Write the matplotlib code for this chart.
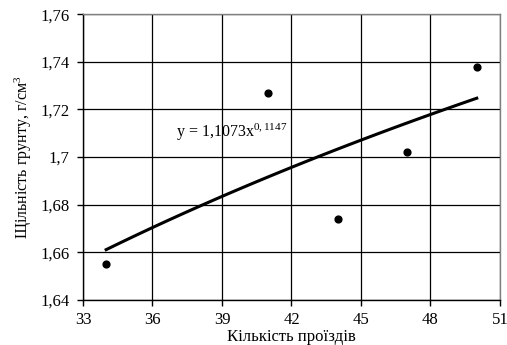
import numpy as np
import matplotlib
matplotlib.use("Agg")
import matplotlib.pyplot as plt
from matplotlib.ticker import FuncFormatter

passes = [34, 41, 44, 47, 50]
density = [1.655, 1.727, 1.674, 1.702, 1.738]
x_ticks = [33, 36, 39, 42, 45, 48, 51]
y_ticks = [1.64, 1.66, 1.68, 1.70, 1.72, 1.74, 1.76]
eq_label = "y = 1,1073x$^{0,1147}$"

plt.rcParams['font.family'] = ['Liberation Serif', 'DejaVu Serif']
plt.rcParams['mathtext.fontset'] = 'custom'
plt.rcParams['mathtext.rm'] = 'Liberation Serif'
plt.rcParams['mathtext.it'] = 'Liberation Serif'

fig = plt.figure(figsize=(5.07, 3.45), dpi=100)
ax = fig.add_axes([0.1637, 0.1304, 0.8223, 0.8286])

# power trend fitted from data
b, lna = np.polyfit(np.log(passes), np.log(density), 1)
xs = np.linspace(min(passes), max(passes), 100)
ax.plot(xs, np.exp(lna) * xs ** b, color='black', lw=2.2, zorder=3)
ax.scatter(passes, density, s=24, color='black', zorder=4)

ax.set_xlim(33, 51)
ax.set_ylim(1.64, 1.76)
ax.set_xticks(x_ticks)
ax.set_yticks(y_ticks)

def fmt(v, pos):
    s = ('%.2f' % v).rstrip('0').rstrip('.')
    return s.replace('.', ',')
ax.yaxis.set_major_formatter(FuncFormatter(fmt))
ax.xaxis.set_major_formatter(FuncFormatter(lambda v, p: '%d' % v))

ax.grid(True, color='black', lw=0.9)
ax.set_axisbelow(True)
for sp in ax.spines.values():
    sp.set_color('#808080')
    sp.set_linewidth(1)
ax.spines['left'].set_color('black')
ax.spines['bottom'].set_color('black')
ax.tick_params(direction='out', length=4.5, width=1, labelsize=12, colors='black')
ax.tick_params(axis='y', pad=5)
ax.tick_params(axis='x', pad=4)

ax.text(37, 1.7105, eq_label, fontsize=11.5, va='center', ha='left')
ax.set_xlabel('Кількість проїздів', fontsize=12, labelpad=1)
ax.set_ylabel('Щільність грунту, г/см$^3$', fontsize=11.5, labelpad=5)

fig.savefig('out.png', dpi=100)
